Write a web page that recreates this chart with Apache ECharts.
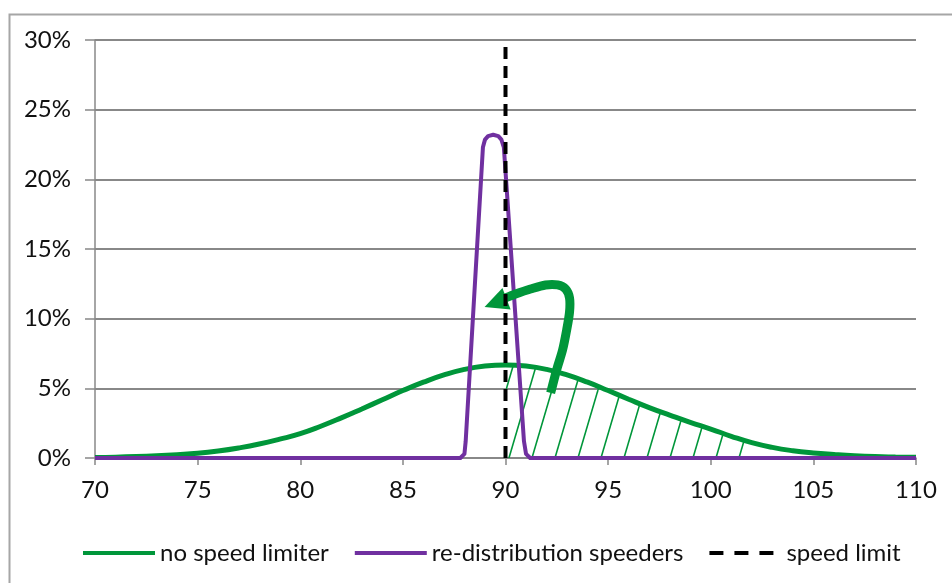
<!DOCTYPE html>
<html>
<head>
<meta charset="utf-8">
<script src="https://cdn.jsdelivr.net/npm/echarts@6/dist/echarts.min.js"></script>
<style>
  html, body { margin: 0; padding: 0; background: #fff; }
  #mainChart { width: 952px; height: 583px; }
</style>
</head>
<body>
<div id="mainChart"></div>
<script>
// 数据：速度分布（%）
var speeds = [70, 71, 72, 73, 74, 75, 76, 77, 78, 79, 80, 81, 82, 83, 84, 85, 86, 87, 88, 89, 90,
              91, 92, 93, 94, 95, 96, 97, 98, 99, 100, 101, 102, 103, 104, 105, 106, 107, 108, 109, 110];
var noLimiter = [0.04, 0.06, 0.10, 0.16, 0.24, 0.34, 0.50, 0.72, 1.00, 1.35, 1.75, 2.28, 2.88, 3.52, 4.18, 4.84, 5.44, 5.96, 6.36, 6.60, 6.68,
                 6.60, 6.36, 5.96, 5.44, 4.84, 4.22, 3.62, 3.08, 2.56, 2.08, 1.56, 1.10, 0.76, 0.52, 0.36, 0.25, 0.16, 0.10, 0.07, 0.05];
var redistX = [70, 87.8, 88.0, 88.06, 88.9, 89.0, 89.15, 89.4, 89.65, 89.8, 89.92, 90.9, 91.0, 91.2, 110];
var redistY = [0, 0, 0.3, 1.2, 22.3, 22.85, 23.1, 23.2, 23.1, 22.85, 22.3, 1.2, 0.3, 0, 0];
var limitX = [90, 90];
var limitY = [0, 30];
var hatchFrom = 90, hatchTo = 102;   // 超速部分阴影区间
// 箭头（数据坐标）
var arrowShaft = [[92.2, 4.67], [92.49, 6.32], [92.78, 7.75], [92.98, 9.19], [93.12, 10.48], [93.12, 11.49],
                  [92.93, 12.13], [92.54, 12.42], [91.95, 12.42], [91.22, 12.13], [90.49, 11.77], [90.0, 11.49]];
var arrowHead = [[88.98, 10.84], [89.85, 12.2], [90.25, 10.65]];

var GREEN = "#00963a", PURPLE = "#7030a0", GRAY = "#888888";
var FONT = "Lato, 'Open Sans', sans-serif";

function pairs(xs, ys) {
    return xs.map(function (x, i) { return [x, ys[i]]; });
}

// 斜线填充图案
function hatchPattern() {
    var c = document.createElement("canvas");
    var w = 23, h = 78;
    c.width = w; c.height = h;
    var ctx = c.getContext("2d");
    ctx.strokeStyle = GREEN;
    ctx.lineWidth = 1.6;
    for (var k = -1; k <= 1; k++) {
        ctx.beginPath();
        ctx.moveTo(k * w, h);
        ctx.lineTo(k * w + w, 0);
        ctx.stroke();
    }
    return c;
}

var greenData = pairs(speeds, noLimiter);
var hatchData = greenData.filter(function (p) { return p[0] >= hatchFrom && p[0] <= hatchTo; });

var chart = echarts.init(document.getElementById("mainChart"));
chart.setOption({
    backgroundColor: "#fff",
    animation: false,
    textStyle: { fontFamily: FONT },
    grid: { left: 95, right: 36, top: 40, bottom: 125 },
    legend: {
        left: 76, top: 536,
        itemWidth: 72, itemHeight: 14, itemGap: 24,
        itemStyle: { opacity: 0 },
        lineStyle: { width: 4 },
        textStyle: { fontFamily: FONT, fontSize: 24, color: "#111" },
        data: [
            { name: "no speed limiter" },
            { name: "re-distribution speeders" },
            { name: "speed limit", lineStyle: { type: [14, 11], width: 4 } },
        ],
    },
    xAxis: {
        type: "value", min: 70, max: 110, interval: 5,
        axisLine: { show: true, lineStyle: { color: GRAY, width: 1.5 } },
        axisTick: { show: true, length: 7, lineStyle: { color: GRAY, width: 1.5 } },
        axisLabel: { color: "#111", fontSize: 24, margin: 20, fontFamily: FONT },
        splitLine: { show: false },
    },
    yAxis: {
        type: "value", min: 0, max: 30, interval: 5,
        axisLine: { show: true, lineStyle: { color: GRAY, width: 1.5 } },
        axisTick: { show: true, length: 10, lineStyle: { color: GRAY, width: 1.5 } },
        axisLabel: { color: "#111", fontSize: 24, margin: 24, formatter: "{value}%", fontFamily: FONT },
        splitLine: { lineStyle: { color: GRAY, width: 1.8 } },
    },
    series: [
        {
            name: "hatch", type: "line", data: hatchData, smooth: true, symbol: "none", z: 2,
            lineStyle: { width: 0 },
            areaStyle: { color: { image: hatchPattern(), repeat: "repeat" }, opacity: 1 },
            silent: true,
        },
        {
            name: "no speed limiter", type: "line", data: greenData, smooth: true, symbol: "none", z: 3,
            lineStyle: { color: GREEN, width: 5 }, itemStyle: { color: GREEN },
        },
        {
            name: "re-distribution speeders", type: "line", data: pairs(redistX, redistY), symbol: "none", z: 4,
            lineStyle: { color: PURPLE, width: 4, join: "round" }, itemStyle: { color: PURPLE },
        },
        {
            name: "speed limit", type: "line", data: pairs(limitX, limitY), symbol: "none", z: 6,
            lineStyle: { color: "#000", width: 4, type: [12, 7] }, itemStyle: { color: "#000" },
        },
    ],
});

// 箭头与外框
function toPx(p) { return chart.convertToPixel({ gridIndex: 0 }, p); }
chart.setOption({
    graphic: [
        {
            type: "rect", left: 7, top: 12, z: 0, silent: true,
            shape: { width: 960, height: 600 },
            style: { fill: null, stroke: "#a6a6a6", lineWidth: 2 },
        },
        {
            type: "polyline", z: 5, silent: true,
            shape: { points: arrowShaft.map(toPx), smooth: 0.3 },
            style: { fill: null, stroke: GREEN, lineWidth: 9, lineCap: "butt", lineJoin: "round" },
        },
        {
            type: "polygon", z: 5, silent: true,
            shape: { points: arrowHead.map(toPx) },
            style: { fill: GREEN },
        },
    ],
});
</script>
</body>
</html>
